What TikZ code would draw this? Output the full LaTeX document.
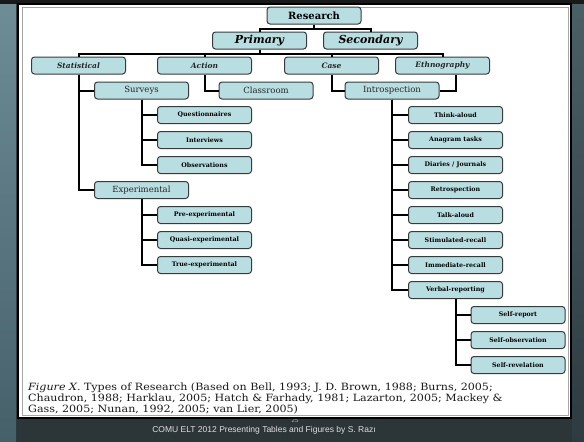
\documentclass[tikz,border=0pt]{standalone}
\usepackage{fontspec}
\setmainfont{DejaVu Serif}
\newfontfamily\footfont{Liberation Sans}
\usepackage{graphicx}
\usepackage{tikz}
\usetikzlibrary{positioning}

\definecolor{boxfill}{HTML}{B8DEE2}
\definecolor{boxline}{HTML}{3A3A3A}
\definecolor{slatebg}{HTML}{2C3538}
\definecolor{stripetop}{HTML}{6E8D96}
\definecolor{stripebot}{HTML}{46606A}
\definecolor{righttop}{HTML}{4A5F66}
\definecolor{rightbot}{HTML}{2E3B40}

\begin{document}
\begin{tikzpicture}[
    x=1pt, y=-1pt,
    node distance=7pt,
    box/.style={rectangle, draw=boxline, line width=1pt, rounded corners=3pt, fill=boxfill, minimum width=94pt, minimum height=17pt, inner sep=1pt, text centered},
    headbox/.style={box, font=\fontsize{10}{12}\selectfont\bfseries},
    mainbox/.style={box, font=\fontsize{11}{12}\selectfont\bfseries\itshape},
    typebox/.style={box, text=black!85, font=\fontsize{7.5}{10}\selectfont\bfseries\itshape},
    groupbox/.style={box, text=black!85, font=\fontsize{8.5}{10}\selectfont},
    leafbox/.style={box, font=\fontsize{6.3}{8}\selectfont\bfseries},
    link/.style={line width=2pt, black},
    caption/.style={anchor=north west, inner sep=0pt, text=black!90, font=\fontsize{10}{9.7}\selectfont}
]
    \useasboundingbox (0,0) rectangle (584,442);
    \fill[slatebg] (0,0) rectangle (584,442);
    \shade[top color=stripetop, bottom color=stripebot] (0,0) rectangle (16,442);
    \shade[top color=righttop, bottom color=rightbot] (572,0) rectangle (584,442);
    \fill[black!90] (0,0) rectangle (584,4);
    \node[font=\footfont\fontsize{6}{7}\selectfont, text=gray!60] (pagenum) at (295,420) {25};
    \filldraw[fill=white, draw=black, line width=2pt] (18,4) rectangle (571,418);
    \draw[gray!70, line width=0.7pt] (22,7) rectangle (568,415);

    \node[headbox] (research) at (314,15.5) {Research};
    \node[mainbox] (primary) at (259.5,40.5) {Primary};
    \node[mainbox, right=16pt of primary] (secondary) {Secondary};
    \node[typebox] (stat) at (78.5,65.5) {Statistical};
    \node[typebox, right=31pt of stat] (action) {Action};
    \node[typebox, right=32pt of action] (case) {Case};
    \node[typebox, right=16pt of case] (ethno) {Ethnography};

    \node[groupbox] (surveys) at (141.5,90.5) {Surveys};
    \node[groupbox] (classroom) at (266,90.5) {Classroom};
    \node[groupbox] (intro) at (392,90.5) {Introspection};

    \node[leafbox] (quest) at (204.5,115) {Questionnaires};
    \node[leafbox, below=of quest] (interv) {Interviews};
    \node[leafbox, below=of interv] (observ) {Observations};
    \node[groupbox] (exper) at (141.5,190) {Experimental};
    \node[leafbox] (pre) at (204.5,215) {Pre-experimental};
    \node[leafbox, below=of pre] (quasi) {Quasi-experimental};
    \node[leafbox, below=of quasi] (truexp) {True-experimental};

    \node[leafbox] (think) at (455.5,115) {Think-aloud};
    \node[leafbox, below=of think] (anagram) {Anagram tasks};
    \node[leafbox, below=of anagram] (diaries) {Diaries / Journals};
    \node[leafbox, below=of diaries] (retro) {Retrospection};
    \node[leafbox, below=of retro] (talk) {Talk-aloud};
    \node[leafbox, below=of talk] (stim) {Stimulated-recall};
    \node[leafbox, below=of stim] (immed) {Immediate-recall};
    \node[leafbox, below=of immed] (verbal) {Verbal-reporting};
    \node[leafbox] (selfrep) at (518,315) {Self-report};
    \node[leafbox, below=of selfrep] (selfobs) {Self-observation};
    \node[leafbox, below=of selfobs] (selfrev) {Self-revelation};

    \draw[link] (research.south) -- ++(0,4) -| (primary.north);
    \draw[link] (research.south) -- ++(0,4) -| (secondary.north);
    \draw[link] (primary.south) -- ++(0,4) -| (stat.north);
    \draw[link] (primary.south) -- ++(0,4) -| (action.north);
    \draw[link] (primary.south) -- ++(0,4) -| (case.north);
    \draw[link] (primary.south) -- ++(0,4) -| (ethno.north);

    \draw[link] (stat.south) |- (surveys.west);
    \draw[link] (stat.south) |- (exper.west);
    \draw[link] (action.south) |- (classroom.west);
    \draw[link] (case.south) |- (intro.west);
    \draw[link] ([xshift=13pt]ethno.south) |- (intro.east);

    \draw[link] (surveys.south) |- (quest.west);
    \draw[link] (surveys.south) |- (interv.west);
    \draw[link] (surveys.south) |- (observ.west);
    \draw[link] (exper.south) |- (pre.west);
    \draw[link] (exper.south) |- (quasi.west);
    \draw[link] (exper.south) |- (truexp.west);

    \draw[link] (intro.south) |- (think.west);
    \draw[link] (intro.south) |- (anagram.west);
    \draw[link] (intro.south) |- (diaries.west);
    \draw[link] (intro.south) |- (retro.west);
    \draw[link] (intro.south) |- (talk.west);
    \draw[link] (intro.south) |- (stim.west);
    \draw[link] (intro.south) |- (immed.west);
    \draw[link] (intro.south) |- (verbal.west);
    \draw[link] (verbal.south) |- (selfrep.west);
    \draw[link] (verbal.south) |- (selfobs.west);
    \draw[link] (verbal.south) |- (selfrev.west);

    \node[caption] (cap) at (28,383) {\scalebox{1.11}[1]{\parbox[t]{440pt}{\raggedright\textit{Figure X.} Types of Research (Based on Bell, 1993; J. D. Brown, 1988; Burns, 2005;\\
        Chaudron, 1988; Harklau, 2005; Hatch \& Farhady, 1981; Lazarton, 2005; Mackey \&\\
        Gass, 2005; Nunan, 1992, 2005; van Lier, 2005)}}};
    \node[font=\footfont\fontsize{8.5}{10}\selectfont, text=gray!25] (footer) at (264,430) {COMU ELT 2012 Presenting Tables and Figures by S. Razı};
\end{tikzpicture}
\end{document}
